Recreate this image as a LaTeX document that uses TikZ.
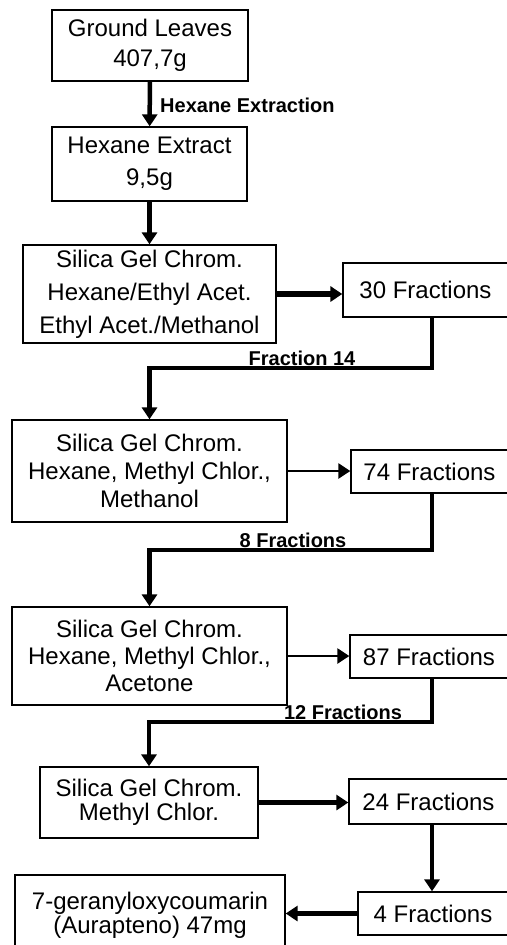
\documentclass[tikz,border=0pt]{standalone}
\usepackage{fontspec}
\setmainfont{Liberation Sans}
\usetikzlibrary{arrows.meta}

\begin{document}
\begin{tikzpicture}[x=1pt,y=-1pt,
  stage/.style={draw, line width=1.3pt, align=center, inner sep=0pt, font=\fontsize{24}{#1}\selectfont},
  stage/.default=28,
  flow/.style={line width=4.5pt, -{Triangle[length=12pt,width=15pt]}},
  thinflow/.style={flow, line width=2.5pt},
  tag/.style={font=\bfseries\fontsize{20}{24}\selectfont, inner sep=0pt}]
\useasboundingbox (0,0) rectangle (506,945);
% main column
\node[stage=30, minimum width=196pt, minimum height=71pt] (leaves) at (150,45.5) {Ground Leaves\\407,7g};
\node[stage=32, minimum width=195pt, minimum height=74pt] (extract) at (149.5,164) {Hexane Extract\\9,5g};
\node[stage=33, minimum width=253pt, minimum height=98pt] (silA) at (149.5,294) {Silica Gel Chrom.\\Hexane/Ethyl Acet.\\Ethyl Acet./Methanol};
\node[stage=28, minimum width=275pt, minimum height=102pt] (silB) at (149.5,471) {Silica Gel Chrom.\\Hexane, Methyl Chlor.,\\Methanol};
\node[stage=27, minimum width=275pt, minimum height=98pt] (silC) at (149.5,656) {Silica Gel Chrom.\\Hexane, Methyl Chlor.,\\Acetone};
\node[stage=24, minimum width=218pt, minimum height=71pt] (silD) at (149,802.5) {Silica Gel Chrom.\\Methyl Chlor.};
\node[stage=24, minimum width=270pt, minimum height=80pt] (aura) at (150,915) {7-geranyloxycoumarin\\(Aurapteno) 47mg};
% fractions
\node[stage, minimum width=165pt, minimum height=54pt] (frA) at (425.5,290) {30 Fractions};
\node[stage, minimum width=157pt, minimum height=43pt] (frB) at (429.5,471.5) {74 Fractions};
\node[stage, minimum width=158pt, minimum height=43pt] (frC) at (429,656.5) {87 Fractions};
\node[stage, minimum width=159pt, minimum height=45pt] (frD) at (428.5,801.5) {24 Fractions};
\node[stage, minimum width=150pt, minimum height=43pt] (frE) at (433,913.5) {4 Fractions};
% bends
\coordinate (kA) at (432,368);
\coordinate (kB) at (432,550);
\coordinate (kC) at (432,722);
\coordinate (kD) at (432,0);

\draw[flow] (leaves) -- (extract);
\draw[flow] (extract) -- (silA);
\draw[flow, line width=5.5pt] (silA.east) -- (silA.east -| frA.west);
\draw[flow] (frA.south -| kA) -- (kA) -| (silB.north);
\draw[thinflow] (silB.east) -- (silB.east -| frB.west);
\draw[flow] (frB.south -| kB) -- (kB) -| (silC.north);
\draw[thinflow] (silC.east) -- (silC.east -| frC.west);
\draw[flow] (frC.south -| kC) -- (kC) -| (silD.north);
\draw[flow] (silD.east) -- (silD.east -| frD.west);
\draw[flow] (frD.south -| kD) -- (frE.north -| kD);
\draw[flow] (frE.west) -- (frE.west -| aura.east);

\node[tag, anchor=west] (lbA) at (160,105) {Hexane Extraction};
\node[tag] (lbB) at (302,358) {Fraction 14};
\node[tag] (lbC) at (293,540) {8 Fractions};
\node[tag] (lbD) at (343,712) {12 Fractions};
\end{tikzpicture}
\end{document}
